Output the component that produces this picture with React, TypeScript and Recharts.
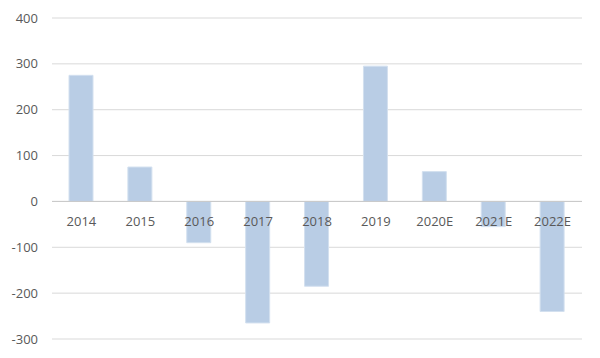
import React from 'react';
import { BarChart, Bar, XAxis, YAxis, CartesianGrid, ReferenceLine } from 'recharts';

const categories = ['2014', '2015', '2016', '2017', '2018', '2019', '2020E', '2021E', '2022E'];
const values = [275, 75, -90, -265, -185, 295, 65, -55, -240];
const yTicks = [-300, -200, -100, 0, 100, 200, 300, 400];

const data = categories.map((name, i) => ({ name, value: values[i] }));

const W = 600;
const H = 358;
const TOP = 18;
const BOTTOM = 18;
const X_AXIS_H = 1;
const Y_MIN = -300;
const Y_MAX = 400;
// pixel row of the zero line, used to hang the category labels under it
const plotH = H - TOP - BOTTOM - X_AXIS_H;
const zeroY = TOP + (plotH * Y_MAX) / (Y_MAX - Y_MIN);

const font = '"Open Sans", "Noto Sans", sans-serif';

const renderCategoryTick = (props: any) => {
  const { x, payload } = props;
  return (
    <text x={x} y={zeroY + 20} dy="0.355em" textAnchor="middle" fontSize={13} fill="#595959" fontFamily={font}>
      {payload.value}
    </text>
  );
};

export default function App() {
  return (
    <div style={{ position: 'absolute', left: 0, top: 0, background: '#fff' }}>
      <BarChart width={W} height={H} data={data} margin={{ top: TOP, right: 18, bottom: BOTTOM, left: 0 }}>
        <CartesianGrid vertical={false} stroke="#d9d9d9" />
        <YAxis
          domain={[Y_MIN, Y_MAX]}
          ticks={yTicks}
          width={52}
          axisLine={false}
          tickLine={false}
          tickSize={0}
          tickMargin={14}
          tick={{ fontSize: 13, fill: '#595959', fontFamily: font }}
        />
        <ReferenceLine y={0} stroke="#c8c8c8" strokeWidth={1} />
        <Bar dataKey="value" fill="#b9cde5" stroke="#d3e0ef" strokeWidth={1} barSize={24} isAnimationActive={false} />
        <XAxis
          dataKey="name"
          axisLine={false}
          tickLine={false}
          height={X_AXIS_H}
          tick={renderCategoryTick}
          interval={0}
        />
      </BarChart>
    </div>
  );
}
